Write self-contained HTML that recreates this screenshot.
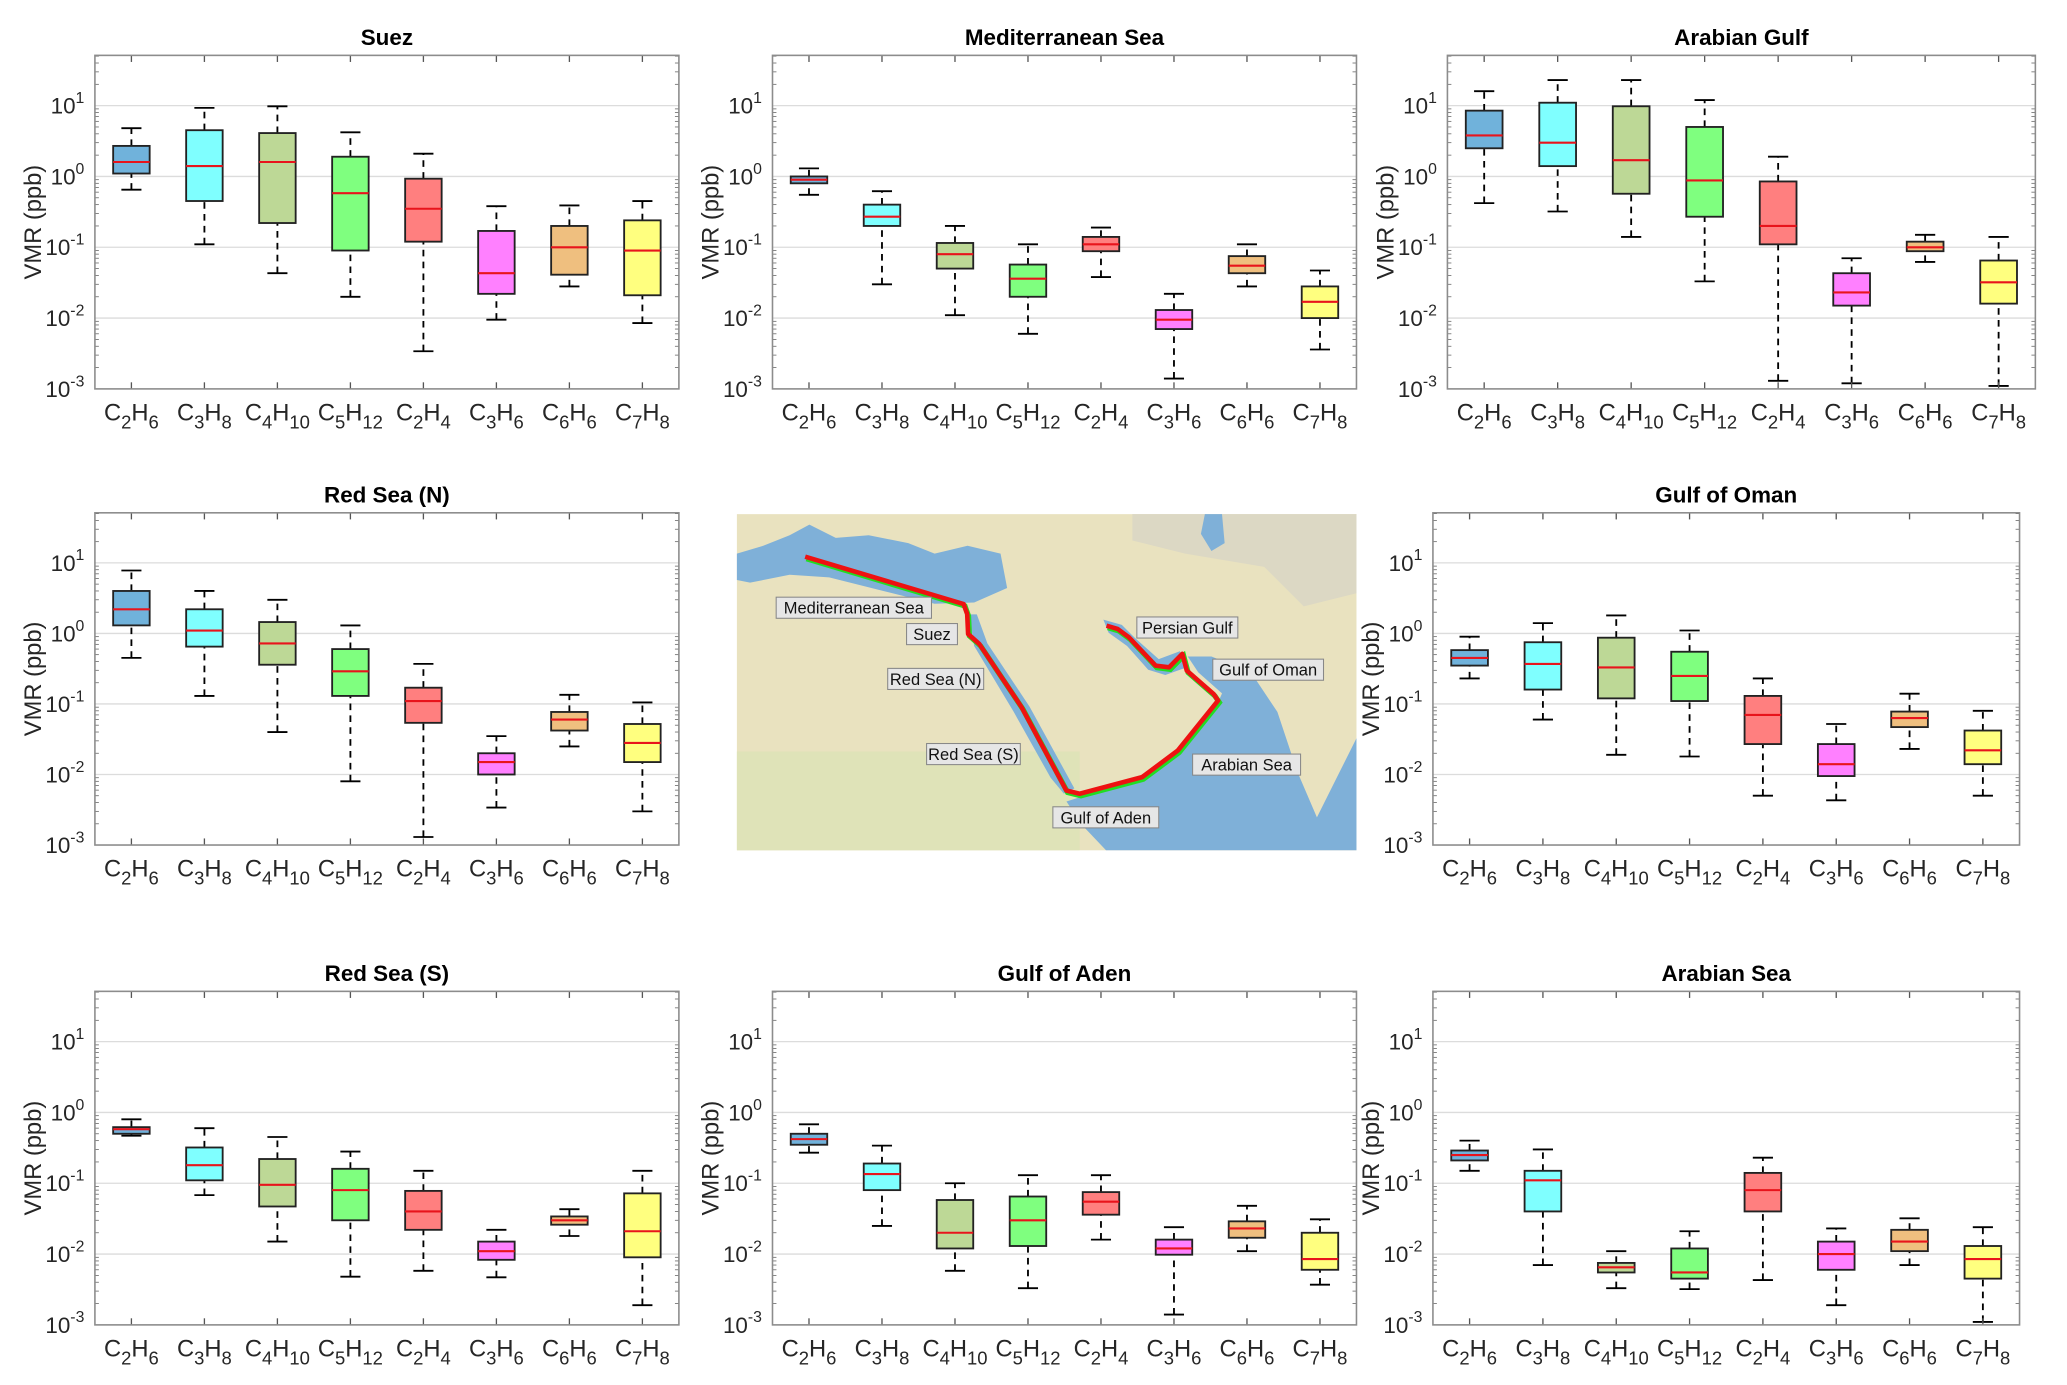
<!DOCTYPE html>
<html><head><meta charset="utf-8"><style>
html,body{margin:0;padding:0;background:#fff;}
svg{display:block;font-family:"Liberation Sans",Arial,sans-serif;}
</style></head><body>
<svg id="fig" width="2067" height="1385" viewBox="0 0 1568 1050.6" preserveAspectRatio="none" xmlns="http://www.w3.org/2000/svg"></svg>
<script>
const categories = [["C","2","H","6"],["C","3","H","8"],["C","4","H","10"],["C","5","H","12"],["C","2","H","4"],["C","3","H","6"],["C","6","H","6"],["C","7","H","8"]];
const colors = ["#70b2db","#7fffff","#bdd896","#7fff7f","#ff7f7f","#ff80ff","#efbf7f","#ffff7f"];
const yTickExp = [-3,-2,-1,0,1];
const panelTitles = ["Suez","Mediterranean Sea","Arabian Gulf","Red Sea (N)","Gulf of Oman","Red Sea (S)","Gulf of Aden","Arabian Sea"];
// each: [whiskerLow, q1, median, q3, whiskerHigh] per category
const suez = [[0.65,1.1,1.6,2.7,4.8],[0.11,0.45,1.4,4.5,9.3],[0.043,0.22,1.6,4.1,9.8],[0.02,0.09,0.58,1.9,4.2],[0.0034,0.12,0.35,0.93,2.1],[0.0095,0.022,0.043,0.17,0.38],[0.028,0.041,0.1,0.2,0.39],[0.0085,0.021,0.09,0.24,0.45]];
const medSea = [[0.55,0.8,0.9,1.0,1.3],[0.03,0.2,0.27,0.4,0.62],[0.011,0.05,0.08,0.115,0.2],[0.006,0.02,0.036,0.057,0.11],[0.038,0.088,0.11,0.14,0.19],[0.0014,0.007,0.0095,0.013,0.022],[0.028,0.043,0.055,0.075,0.11],[0.0036,0.01,0.017,0.028,0.047]];
const arabianGulf = [[0.42,2.5,3.8,8.5,16],[0.32,1.4,3.0,11,23],[0.14,0.57,1.7,9.8,23],[0.033,0.27,0.88,5.0,12],[0.0013,0.11,0.2,0.85,1.9],[0.0012,0.015,0.023,0.043,0.07],[0.062,0.088,0.1,0.12,0.15],[0.0011,0.016,0.032,0.065,0.14]];
const redSeaN = [[0.45,1.3,2.2,4.0,7.8],[0.13,0.65,1.1,2.2,4.0],[0.04,0.36,0.72,1.45,3.0],[0.008,0.13,0.29,0.6,1.3],[0.0013,0.054,0.11,0.17,0.37],[0.0034,0.01,0.015,0.02,0.035],[0.025,0.042,0.06,0.077,0.135],[0.003,0.015,0.028,0.052,0.105]];
const gulfOman = [[0.23,0.35,0.45,0.58,0.9],[0.06,0.16,0.37,0.75,1.4],[0.019,0.12,0.33,0.87,1.8],[0.018,0.11,0.25,0.55,1.1],[0.005,0.027,0.07,0.13,0.23],[0.0043,0.0095,0.014,0.027,0.052],[0.023,0.047,0.063,0.078,0.14],[0.005,0.014,0.022,0.042,0.08]];
const redSeaS = [[0.47,0.5,0.58,0.62,0.8],[0.068,0.11,0.18,0.32,0.6],[0.015,0.047,0.095,0.22,0.45],[0.0048,0.03,0.08,0.16,0.28],[0.0058,0.022,0.04,0.078,0.15],[0.0047,0.0083,0.011,0.015,0.022],[0.018,0.026,0.03,0.034,0.043],[0.0019,0.009,0.021,0.072,0.15]];
const gulfAden = [[0.27,0.35,0.42,0.5,0.68],[0.025,0.08,0.135,0.19,0.34],[0.0058,0.012,0.02,0.058,0.1],[0.0033,0.013,0.03,0.065,0.13],[0.016,0.036,0.055,0.075,0.13],[0.0014,0.0098,0.012,0.016,0.024],[0.011,0.017,0.023,0.029,0.048],[0.0037,0.006,0.0085,0.02,0.031]];
const arabianSea = [[0.15,0.21,0.25,0.29,0.4],[0.007,0.04,0.11,0.15,0.3],[0.0033,0.0055,0.0065,0.0075,0.011],[0.0032,0.0045,0.0055,0.012,0.021],[0.0043,0.04,0.08,0.14,0.23],[0.0019,0.006,0.01,0.015,0.023],[0.007,0.011,0.015,0.022,0.032],[0.0011,0.0045,0.0085,0.013,0.024]];
const panelData = [suez, medSea, arabianGulf, redSeaN, gulfOman, redSeaS, gulfAden, arabianSea];

const NS="http://www.w3.org/2000/svg";
const svg=document.getElementById('fig');
function mk(tag,attrs,parent){const e=document.createElementNS(NS,tag);for(const k in attrs)e.setAttribute(k,attrs[k]);(parent||svg).appendChild(e);return e;}

const layout=[[72,515,42,295],[586,1029,42,295],[1098,1544,42,295],[72,515,389,641],[1087,1532,389,641],[72,515,752,1005],[586,1029,752,1005],[1087,1532,752,1005]];
const LOGMIN=-3, LOGMAX=1.71;

layout.forEach((L,pi)=>{
  const [x0,x1,y0,y1]=L;
  const g=mk('g',{});
  
  
  const xs=i=>x0+(i+0.5)/8*(x1-x0);
  const ys=v=>y1-(Math.log10(v)-LOGMIN)/(LOGMAX-LOGMIN)*(y1-y0);
  mk('rect',{x:x0,y:y0,width:x1-x0,height:y1-y0,fill:'#fff'},g);
  yTickExp.forEach(e=>{
    const y=ys(Math.pow(10,e));
    if(e>-3){const gl=mk('line',{x1:x0,x2:x1,y1:y,y2:y,stroke:'#dcdcdc','stroke-width':1},g);
      }
    const t=mk('text',{x:x0-8,y:y+6,'font-size':17,'text-anchor':'end',fill:'#262626'},g);
    
    t.appendChild(document.createTextNode('10'));
    const s=mk('tspan',{dy:-8,'font-size':12},t);s.textContent=String(e);
  });
  for(let e=-3;e<2;e++)for(let m=2;m<10;m++){const v=m*Math.pow(10,e);if(Math.log10(v)>LOGMAX)continue;const y=ys(v);
    mk('line',{x1:x0,x2:x0+3,y1:y,y2:y,stroke:'#666','stroke-width':0.6},g);mk('line',{x1:x1,x2:x1-3,y1:y,y2:y,stroke:'#666','stroke-width':0.6},g);}
  panelData[pi].forEach((d,i)=>{
    const cx=xs(i), hw=(x1-x0)/8*0.25, cw=hw*0.55;
    const bx=mk('g',{},g);
    
    
    mk('line',{x1:cx,x2:cx,y1:ys(d[0]),y2:ys(d[1]),stroke:'#000','stroke-width':1.4,'stroke-dasharray':'5,4'},bx);
    mk('line',{x1:cx,x2:cx,y1:ys(d[3]),y2:ys(d[4]),stroke:'#000','stroke-width':1.4,'stroke-dasharray':'5,4'},bx);
    mk('line',{x1:cx-cw,x2:cx+cw,y1:ys(d[0]),y2:ys(d[0]),stroke:'#000','stroke-width':1.4},bx);
    mk('line',{x1:cx-cw,x2:cx+cw,y1:ys(d[4]),y2:ys(d[4]),stroke:'#000','stroke-width':1.4},bx);
    mk('rect',{x:cx-hw,y:ys(d[3]),width:2*hw,height:ys(d[1])-ys(d[3]),fill:colors[i],stroke:'#222','stroke-width':1.4},bx);
    mk('line',{x1:cx-hw,x2:cx+hw,y1:ys(d[2]),y2:ys(d[2]),stroke:'#e8141c','stroke-width':1.6},bx);
    mk('line',{x1:cx,x2:cx,y1:y1,y2:y1-5,stroke:'#555','stroke-width':1},g);
    mk('line',{x1:cx,x2:cx,y1:y0,y2:y0+5,stroke:'#555','stroke-width':1},g);
    const c=categories[i];
    const t=mk('text',{x:cx,y:y1+24,'font-size':18,'text-anchor':'middle',fill:'#262626'},g);
    
    t.appendChild(document.createTextNode(c[0]));
    mk('tspan',{dy:6,'font-size':14},t).textContent=c[1];
    mk('tspan',{dy:-6},t).textContent=c[2];
    mk('tspan',{dy:6,'font-size':14},t).textContent=c[3];
  });
  const fr=mk('rect',{x:x0,y:y0,width:x1-x0,height:y1-y0,fill:'none',stroke:'#8c8c8c','stroke-width':1.2},g);
  
  const tt=mk('text',{x:(x0+x1)/2,y:y0-8,'font-size':17,'font-weight':'bold','text-anchor':'middle',fill:'#000'},g);
  
  tt.textContent=panelTitles[pi];
  const yl=mk('text',{x:0,y:0,'font-size':18,'text-anchor':'middle',fill:'#262626',transform:`translate(${x0-41},${(y0+y1)/2}) rotate(-90)`},g);
  
  yl.textContent='VMR (ppb)';
});

// map
const mg=mk('g',{transform:'translate(559,390)'});

mk('rect',{x:0,y:0,width:470,height:255,fill:'#e9e2bf'},mg);
mk('rect',{x:0,y:180,width:260,height:75,fill:'#dfe3b8'},mg);
mk('polygon',{points:'300,0 470,0 470,60 430,70 400,40 340,30 300,20',fill:'#dcd8c4'},mg);
mk('polygon',{points:'0,30 20,24 40,16 55,8 75,18 100,16 130,22 150,30 175,24 200,30 205,56 180,67 150,68 110,58 70,48 40,46 10,52 0,50',fill:'#7fb0d8'},mg);
mk('polygon',{points:'355,0 368,0 370,22 360,28 352,15',fill:'#7fb0d8'},mg);
mk('polygon',{points:'176,76 182,76 190,98 222,146 256,208 248,212 238,200 210,150 180,100',fill:'#7fb0d8'},mg);
mk('polygon',{points:'278,80 292,84 302,94 320,110 336,104 342,116 325,122 312,118 296,100 282,90',fill:'#7fb0d8'},mg);
mk('polygon',{points:'250,218 300,202 332,184 362,150 368,136 350,120 342,108 360,108 390,120 410,150 425,195 440,230 455,200 470,170 470,255 280,255 262,236',fill:'#7fb0d8'},mg);
mk('polyline',{points:'51.8,32.3 172,68.2 174.7,75.8 175.4,90.9 183.9,98.5 216,146.5 249.9,209.6 260,212.1 307.4,199.5 334.5,179.3 365,141.4 361.6,136.4 341.3,118.7 337.9,106 327.8,116.2 317.6,114.9 297.3,93.4 288.8,87.1 280.4,84.6',fill:'none',stroke:'#22dd22','stroke-width':4,transform:'translate(1,1.5)'},mg);
const route=mk('polyline',{points:'51.8,32.3 172,68.2 174.7,75.8 175.4,90.9 183.9,98.5 216,146.5 249.9,209.6 260,212.1 307.4,199.5 334.5,179.3 365,141.4 361.6,136.4 341.3,118.7 337.9,106 327.8,116.2 317.6,114.9 297.3,93.4 288.8,87.1 280.4,84.6',fill:'none',stroke:'#ee1111','stroke-width':3.5,'stroke-linejoin':'round'},mg);

const labels=[["Mediterranean Sea",29.8,63,117.8],["Suez",128.7,83,38.6],["Red Sea (N)",114.4,117,72.8],["Red Sea (S)",143.9,174,71.1],["Gulf of Aden",239.7,222,80.3],["Arabian Sea",345.7,182,81.9],["Gulf of Oman",361,110,84],["Persian Gulf",303.4,78,76.6]];
labels.forEach(l=>{
  const lg=mk('g',{},mg);
  
  mk('rect',{x:l[1],y:l[2],width:l[3],height:16,fill:'#e6e6e6',stroke:'#888','stroke-width':0.8},lg);
  const t=mk('text',{x:l[1]+l[3]/2,y:l[2]+12.5,'font-size':12.5,'text-anchor':'middle',fill:'#111'},lg);
  t.textContent=l[0];
});
</script>
</body></html>
